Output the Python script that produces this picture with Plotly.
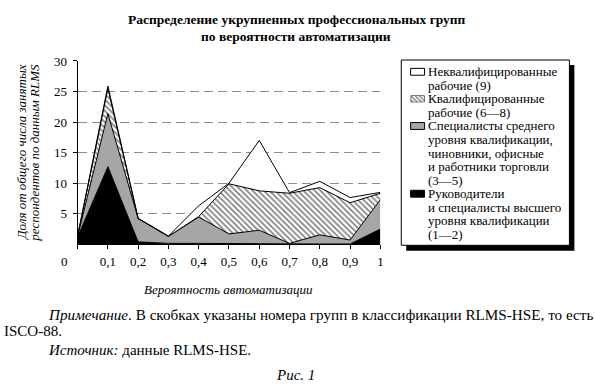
import plotly.graph_objects as go

# ---------------- data ----------------
x_vals = [0, 0.1, 0.2, 0.3, 0.4, 0.5, 0.6, 0.7, 0.8, 0.9, 1.0]
x_ticktext = ["", "0,1", "0,2", "0,3", "0,4", "0,5", "0,6", "0,7", "0,8", "0,9", "1"]
y_tickvals = [5, 10, 15, 20, 25, 30]

managers = [1.2, 12.7, 0.4, 0.15, 0.15, 0.1, 0.1, 0.0, 0.05, 0.05, 2.5]
mid_level = [0.1, 8.7, 3.8, 1.15, 4.3, 1.6, 2.2, 0.15, 1.5, 0.65, 4.8]
skilled = [0.0, 4.1, 0.0, 0.0, 0.1, 8.2, 6.45, 8.2, 7.73, 6.1, 1.05]
unskilled = [0.05, 0.4, 0.05, 0.05, 1.75, 0.1, 8.25, 0.1, 1.02, 0.85, 0.15]

legend_unskilled = ["Неквалифицированные", "рабочие (9)"]
legend_skilled = ["Квалифицированные", "рабочие (6—8)"]
legend_mid = ["Специалисты среднего", "уровня квалификации,", "чиновники, офисные",
              "и работники торговли", "(3—5)"]
legend_managers = ["Руководители", "и специалисты высшего", "уровня квалификации", "(1—2)"]

title_lines = ["Распределение укрупненных профессиональных групп",
               "по вероятности автоматизации"]
y_title_lines = ["Доля от общего числа занятых", "респондентов по данным RLMS"]
x_title = "Вероятность автоматизации"

# ---------------- geometry helpers (paper = whole figure, margins 0) ----------------
W, H = 595, 384
PL, PR, PT, PB = 78.0, 382.3, 55.0, 241.7


def X(px):
    return px / W


def Y(py):
    return 1 - py / H


FONT = "Liberation Serif, Times New Roman, serif"
GRAY = "#a6a6a6"

fig = go.Figure()

line = dict(color="black", width=1)
fig.add_trace(go.Scatter(x=x_vals, y=managers, stackgroup="one", mode="lines",
                         line=line, fillcolor="black", showlegend=False))
fig.add_trace(go.Scatter(x=x_vals, y=mid_level, stackgroup="one", mode="lines",
                         line=line, fillcolor=GRAY, showlegend=False))
fig.add_trace(go.Scatter(x=x_vals, y=skilled, stackgroup="one", mode="lines",
                         line=line, fillcolor="white",
                         fillpattern=dict(shape="\\", fgcolor="black", bgcolor="white",
                                          size=4, solidity=0.4),
                         showlegend=False))
fig.add_trace(go.Scatter(x=x_vals, y=unskilled, stackgroup="one", mode="lines",
                         line=line, fillcolor="white", showlegend=False))

# ---------------- manual legend ----------------
LBX0, LBX1, LBY0, LBY1 = 403.3, 572.3, 54.0, 242.7
shapes = []
shapes.append(dict(type="rect", xref="paper", yref="paper", layer="below",
                   x0=X(LBX0 + 5), x1=X(LBX1 + 5), y0=Y(LBY0 + 5), y1=Y(LBY1 + 5.5),
                   fillcolor="black", line=dict(width=0)))
shapes.append(dict(type="rect", xref="paper", yref="paper", layer="below",
                   x0=X(LBX0), x1=X(LBX1), y0=Y(LBY0), y1=Y(LBY1),
                   fillcolor="white", line=dict(color="black", width=1)))

LINE0, LSTEP = 66.0, 13.8
SYMX0, SYMX1 = 412.7, 426.7
TEXTX = 429.0

annotations = []
groups = [(legend_unskilled, "white"), (legend_skilled, "hatch"),
          (legend_mid, GRAY), (legend_managers, "black")]
k = 0
hatch_box = None
for lines_, kind in groups:
    cy = LINE0 + k * LSTEP
    if kind == "hatch":
        hatch_box = (SYMX0, SYMX1, cy - 3.5, cy + 3.5)
    else:
        shapes.append(dict(type="rect", xref="paper", yref="paper", layer="below",
                           x0=X(SYMX0), x1=X(SYMX1), y0=Y(cy - 3.5), y1=Y(cy + 3.5),
                           fillcolor=kind, line=dict(color="black", width=1)))
    for t in lines_:
        annotations.append(dict(text=t, xref="paper", yref="paper",
                                x=X(TEXTX), y=Y(LINE0 + k * LSTEP),
                                xanchor="left", yanchor="middle", showarrow=False,
                                borderpad=0,
                                font=dict(family=FONT, size=13, color="black")))
        k += 1

# hatched legend symbol on an auxiliary axis pair
hx0, hx1, hy0, hy1 = hatch_box
fig.add_trace(go.Scatter(x=[0, 1, 1, 0, 0], y=[0, 0, 1, 1, 0], mode="lines",
                         fill="toself", fillcolor="white",
                         fillpattern=dict(shape="\\", fgcolor="black", bgcolor="white",
                                          size=3, solidity=0.45),
                         line=dict(color="black", width=1), xaxis="x2", yaxis="y2",
                         showlegend=False, hoverinfo="skip"))

# ---------------- titles & texts ----------------
def ann(text, xp, yp, size=13, xanchor="center", angle=0):
    annotations.append(dict(text=text, xref="paper", yref="paper", x=X(xp), y=Y(yp),
                            xanchor=xanchor, yanchor="middle", textangle=angle,
                            showarrow=False, font=dict(family=FONT, size=size, color="black")))


ann("<b>" + title_lines[0] + "</b>", 299, 13, size=13.5)
ann("<b>" + title_lines[1] + "</b>", 297, 30, size=13.5)
ann("<i>" + y_title_lines[0] + "</i>", 21.5, 148, angle=-90)
ann("<i>" + y_title_lines[1] + "</i>", 34.5, 148, angle=-90)
ann("<i>" + x_title + "</i>", 230, 288)
ann("0", 65, 259)
ann("<i>Примечание</i>. В скобках указаны номера групп в классификации RLMS-HSE, то есть",
    46, 313, size=15.2, xanchor="left")
ann("ISCO-88.", 2, 330, size=15, xanchor="left")
ann("<i>Источник:</i> данные RLMS-HSE.", 46, 349, size=15, xanchor="left")
ann("<i>Рис. 1</i>", 297, 375, size=15)

fig.update_layout(
    width=W, height=H,
    margin=dict(l=0, r=0, t=0, b=0, pad=0),
    paper_bgcolor="white", plot_bgcolor="rgba(0,0,0,0)",
    showlegend=False,
    font=dict(family=FONT, size=13, color="black"),
    xaxis=dict(domain=[X(PL), X(PR)], range=[0, 1], tickvals=x_vals, ticktext=x_ticktext,
               showline=True, linecolor="black", linewidth=1,
               ticks="outside", ticklen=4, tickcolor="black", showgrid=False,
               zeroline=False, ticklabelstandoff=1, fixedrange=True,
               tickfont=dict(family=FONT, size=13, color="black")),
    yaxis=dict(domain=[Y(PB), Y(PT)], range=[0, 30], tickvals=y_tickvals,
               showline=True, linecolor="black", linewidth=1,
               ticks="outside", ticklen=4, tickcolor="black",
               showgrid=True, gridcolor="#8c8c8c", gridwidth=1, griddash="9px,5px",
               zeroline=False, ticklabelstandoff=3, fixedrange=True,
               tickfont=dict(family=FONT, size=13, color="black")),
    xaxis2=dict(domain=[X(hx0), X(hx1)], range=[0, 1], visible=False, anchor="y2",
                fixedrange=True),
    yaxis2=dict(domain=[Y(hy1), Y(hy0)], range=[0, 1], visible=False, anchor="x2",
                fixedrange=True),
    shapes=shapes,
    annotations=annotations,
)

post = ("document.body.style.margin='0';"
        "var d=document.getElementById('{plot_id}');"
        "d.style.position='absolute';d.style.left='0px';d.style.top='0px';")
fig.write_html("out.html", post_script=post, config={"displayModeBar": False})
